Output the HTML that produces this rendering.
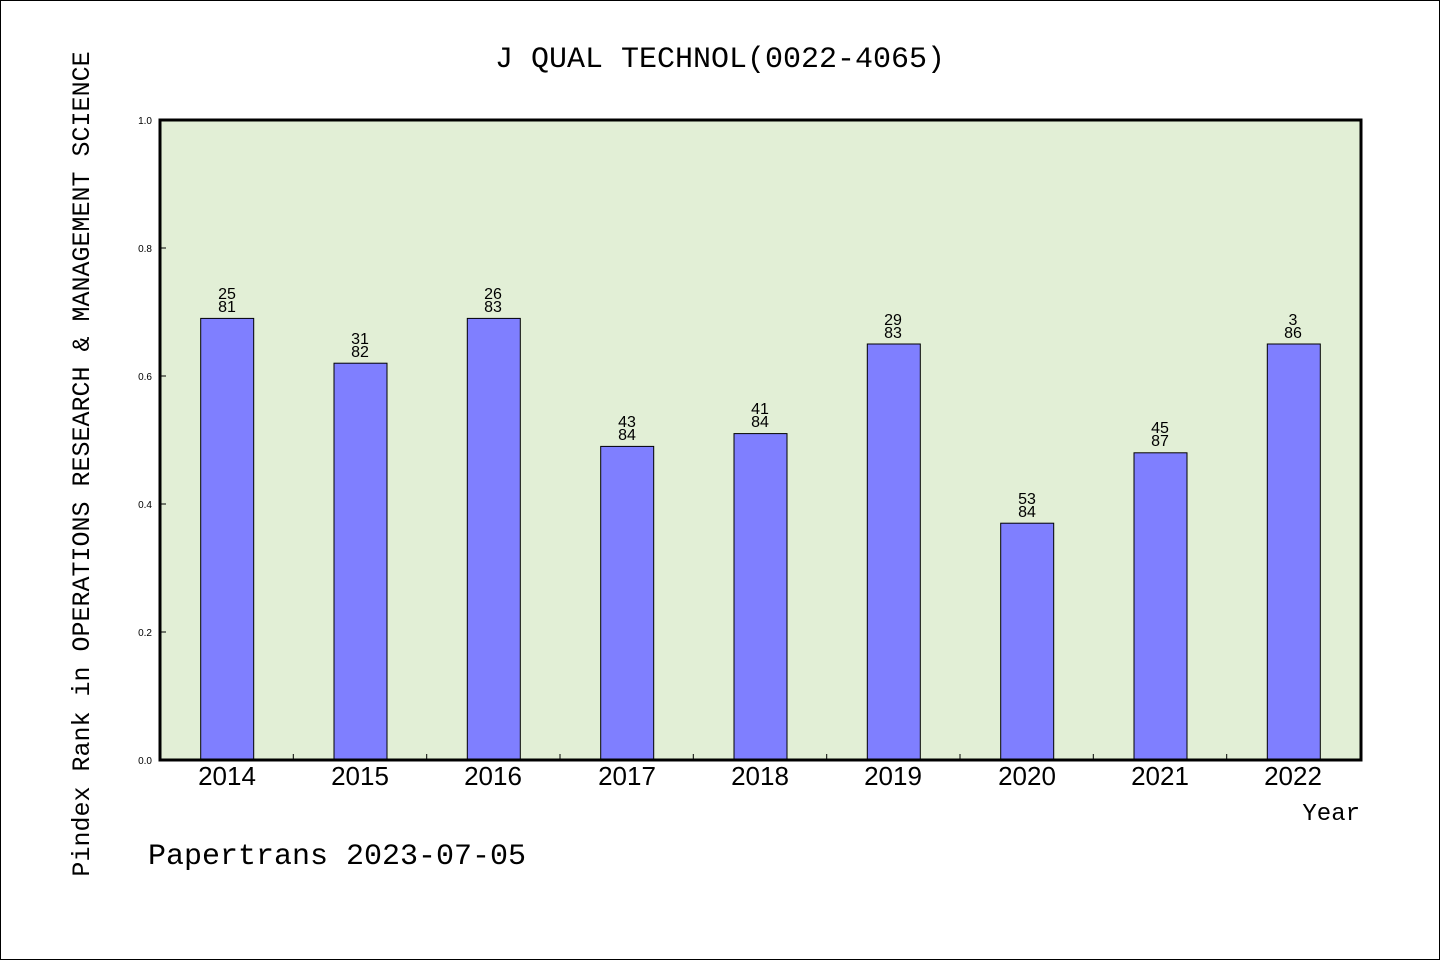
<!DOCTYPE html>
<html><head><style>body{margin:0;background:#fff}svg{display:block}</style></head><body>
<svg width="1440" height="960" xmlns="http://www.w3.org/2000/svg" font-family="'Liberation Mono','WenQuanYi Zen Hei',monospace">
<rect x="0.5" y="0.5" width="1439" height="959" fill="#fff" stroke="#000"/>
<text x="720" y="67" font-size="30" text-anchor="middle">J QUAL TECHNOL(0022-4065)</text>
<rect x="160" y="120" width="1201" height="640" fill="#e2efd6"/>
<g fill="#7f7fff" stroke="#000" stroke-width="1">
<rect x="200.7" y="318.4" width="53" height="441.6"/>
<rect x="334" y="363.2" width="53" height="396.8"/>
<rect x="467.3" y="318.4" width="53" height="441.6"/>
<rect x="600.7" y="446.4" width="53" height="313.6"/>
<rect x="734" y="433.6" width="53" height="326.4"/>
<rect x="867.3" y="344" width="53" height="416"/>
<rect x="1000.7" y="523.2" width="53" height="236.8"/>
<rect x="1134" y="452.8" width="53" height="307.2"/>
<rect x="1267.3" y="344" width="53" height="416"/>
</g>
<g font-size="16" text-anchor="middle" font-family="'Liberation Sans',sans-serif">
<text x="227" y="299">25</text><text x="227" y="312">81</text>
<text x="360" y="344">31</text><text x="360" y="357">82</text>
<text x="493" y="299">26</text><text x="493" y="312">83</text>
<text x="627" y="427">43</text><text x="627" y="440">84</text>
<text x="760" y="414">41</text><text x="760" y="427">84</text>
<text x="893" y="325">29</text><text x="893" y="338">83</text>
<text x="1027" y="504">53</text><text x="1027" y="517">84</text>
<text x="1160" y="433">45</text><text x="1160" y="446">87</text>
<text x="1293" y="325">3</text><text x="1293" y="338">86</text>
</g>
<g stroke="#000" stroke-width="1">
<line x1="293.3" y1="760" x2="293.3" y2="754"/><line x1="426.7" y1="760" x2="426.7" y2="754"/>
<line x1="560" y1="760" x2="560" y2="754"/><line x1="693.3" y1="760" x2="693.3" y2="754"/>
<line x1="826.7" y1="760" x2="826.7" y2="754"/><line x1="960" y1="760" x2="960" y2="754"/>
<line x1="1093.3" y1="760" x2="1093.3" y2="754"/><line x1="1226.7" y1="760" x2="1226.7" y2="754"/>
<line x1="160" y1="248" x2="166" y2="248"/><line x1="160" y1="376" x2="166" y2="376"/>
<line x1="160" y1="504" x2="166" y2="504"/><line x1="160" y1="632" x2="166" y2="632"/>
</g>
<rect x="160" y="120" width="1201" height="640" fill="none" stroke="#000" stroke-width="3"/>
<g font-size="10" text-anchor="end" font-family="'Liberation Sans',sans-serif">
<text x="152" y="764">0.0</text><text x="152" y="636">0.2</text><text x="152" y="508">0.4</text>
<text x="152" y="380">0.6</text><text x="152" y="252">0.8</text><text x="152" y="124">1.0</text>
</g>
<g font-size="26" text-anchor="middle" font-family="'Liberation Sans',sans-serif">
<text x="227" y="785">2014</text><text x="360" y="785">2015</text><text x="493" y="785">2016</text>
<text x="627" y="785">2017</text><text x="760" y="785">2018</text><text x="893" y="785">2019</text>
<text x="1027" y="785">2020</text><text x="1160" y="785">2021</text><text x="1293" y="785">2022</text>
</g>
<text x="1360" y="820" font-size="24" text-anchor="end">Year</text>
<text x="148" y="864" font-size="30">Papertrans 2023-07-05</text>
<text transform="translate(89,464) rotate(-90)" font-size="25" text-anchor="middle">Pindex Rank in OPERATIONS RESEARCH &amp; MANAGEMENT SCIENCE</text>
</svg>
</body></html>
